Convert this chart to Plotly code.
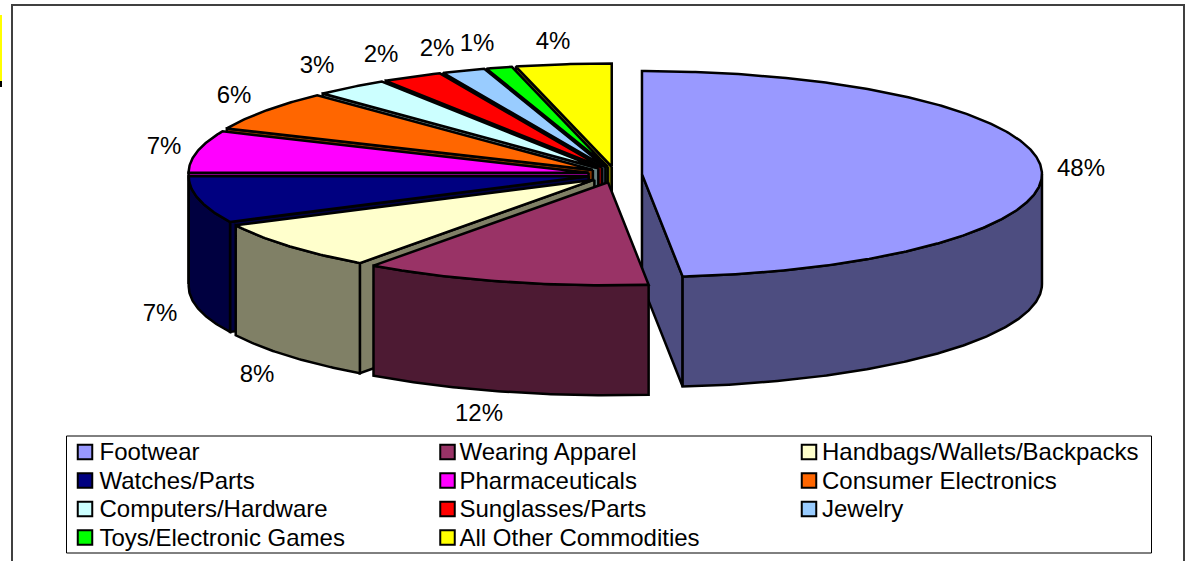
import numpy as np
import plotly.graph_objects as go

categories = ["Footwear", "Wearing Apparel", "Handbags/Wallets/Backpacks", "Watches/Parts",
              "Pharmaceuticals", "Consumer Electronics", "Computers/Hardware", "Sunglasses/Parts",
              "Jewelry", "Toys/Electronic Games", "All Other Commodities"]
shares = [48.38, 11.59, 7.73, 7.3, 6.6, 6.3, 3.0, 2.45, 1.75, 1.05, 3.85]
percent_labels = ["48%", "12%", "8%", "7%", "7%", "6%", "3%", "2%", "2%", "1%", "4%"]
top_colors = ["#9999FF", "#993366", "#FFFFCC", "#000080", "#FF00FF", "#FF6600",
              "#CCFFFF", "#FF0000", "#99CCFF", "#00FF00", "#FFFF00"]

# layout constants (pixels)
W, H = 1194, 561
CX, CY = 615, 174.5
RX, RY = 400, 103
DEPTH = 110
EX, EY = 27, 8
FONT = "Liberation Sans"
LABEL_POS = [(1081, 170), (479, 415), (257, 376), (160, 315), (164, 148), (234, 97),
             (317, 67), (381, 56), (437, 50), (477, 45), (553, 43)]
LEGEND_COLS = [(85, 99.5), (447.5, 459.5), (809, 822)]
LEGEND_ROWS = [454, 482.5, 511, 539.5]
SWATCH_ROWS = [452, 480.5, 509, 537.5]


def darker(hexcolor):
    r, g, b = (int(hexcolor[i:i + 2], 16) for i in (1, 3, 5))
    return f"rgb({(r + 1) // 2},{(g + 1) // 2},{(b + 1) // 2})"


fig = go.Figure()


def face(xs, ys, fill, name):
    fig.add_trace(go.Scatter(x=xs, y=ys, mode="lines", fill="toself", fillcolor=fill,
                             line=dict(color="#000000", width=2.5), name=name,
                             hoverinfo="name", showlegend=False))


total = sum(shares)
edges = np.concatenate([[0], np.cumsum(shares)]) / total * 2 * np.pi
slices = []
for i in range(len(shares)):
    a0, a1 = edges[i], edges[i + 1]
    slices.append((-np.cos((a0 + a1) / 2), i, a0, a1))

for _, i, a0, a1 in sorted(slices):
    mid = (a0 + a1) / 2
    tx, ty = CX + EX * np.sin(mid), CY - EY * np.cos(mid)
    name, top, side = categories[i], top_colors[i], darker(top_colors[i])
    arc = np.linspace(a0, a1, max(3, int((a1 - a0) * 120)))
    ax = tx + RX * np.sin(arc)
    ay = ty - RY * np.cos(arc)
    # radial walls that face the viewer
    for a, visible in ((a0, np.sin(a0) < 0), (a1, np.sin(a1) > 0)):
        if visible:
            ex, ey = tx + RX * np.sin(a), ty - RY * np.cos(a)
            face([tx, ex, ex, tx, tx], [ty, ey, ey + DEPTH, ty + DEPTH, ty], side, name)
    # outer wall (front half only)
    lo, hi = max(a0, np.pi / 2), min(a1, 3 * np.pi / 2)
    if hi > lo:
        w = np.linspace(lo, hi, max(3, int((hi - lo) * 120)))
        wx = tx + RX * np.sin(w)
        wy = ty - RY * np.cos(w)
        face(np.r_[wx, wx[::-1], wx[0]], np.r_[wy, wy[::-1] + DEPTH, wy[0]], side, name)
    # top
    face(np.r_[tx, ax, tx], np.r_[ty, ay, ty], top, name)

# percentage labels
fig.add_trace(go.Scatter(x=[p[0] for p in LABEL_POS], y=[p[1] for p in LABEL_POS], mode="text",
                         text=percent_labels, textposition="middle center",
                         textfont=dict(family=FONT, size=24, color="#000000"),
                         hoverinfo="skip", showlegend=False))

# legend
lx, ly, tx_, ty_ = [], [], [], []
for i, cat in enumerate(categories):
    row, col = i // 3, i % 3
    lx.append(LEGEND_COLS[col][0])
    ly.append(SWATCH_ROWS[row])
    tx_.append(LEGEND_COLS[col][1])
    ty_.append(LEGEND_ROWS[row])
fig.add_trace(go.Scatter(x=lx, y=ly, mode="markers",
                         marker=dict(symbol="square", size=14.5, color=top_colors,
                                     line=dict(color="#000000", width=2)),
                         hoverinfo="skip", showlegend=False))
fig.add_trace(go.Scatter(x=tx_, y=ty_, mode="text", text=categories, textposition="middle right",
                         textfont=dict(family=FONT, size=24, color="#000000"),
                         hoverinfo="skip", showlegend=False))

shapes = [
    dict(type="rect", x0=12, y0=5, x1=1193 - 9, y1=600, line=dict(color="#404040", width=2), layer="below"),
    dict(type="rect", x0=66.5, y0=436, x1=1151.5, y1=553, line=dict(color="#000000", width=1), layer="below"),
    dict(type="rect", x0=0, y0=15, x1=2, y1=81, fillcolor="#FFFF00", line=dict(width=0), layer="below"),
    dict(type="rect", x0=0, y0=81, x1=2, y1=87, fillcolor="#000000", line=dict(width=0), layer="below"),
]

fig.update_layout(width=W, height=H, margin=dict(l=0, r=0, t=0, b=0),
                  paper_bgcolor="#FFFFFF", plot_bgcolor="#FFFFFF", showlegend=False, shapes=shapes,
                  xaxis=dict(range=[0, W], visible=False, fixedrange=True),
                  yaxis=dict(range=[H, 0], visible=False, fixedrange=True))

fig.write_html("out.html", config={"displayModeBar": False},
               post_script="document.body.style.margin='0';document.body.style.overflow='hidden';")
